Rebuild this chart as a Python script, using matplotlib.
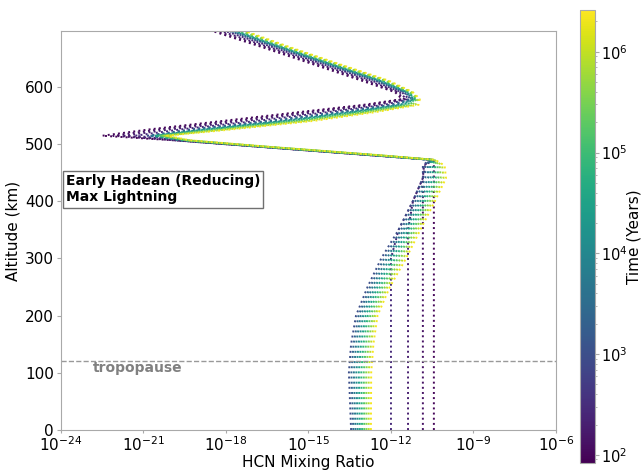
import numpy as np
import matplotlib
matplotlib.use("Agg")
import matplotlib.pyplot as plt
from matplotlib.colors import LogNorm
from matplotlib.cm import ScalarMappable

# altitude grid of the profiles (km)
altitude_km = [0, 100, 150, 200, 250, 300, 350, 400, 440, 462, 472, 480, 495,
               506, 514, 525, 540, 555, 568, 578, 590, 610, 640, 670, 697]

# snapshot times (years), one per profile
time_years = [1.0e2, 1.4e2, 2.0e2, 2.8e2,
              1.0e3, 2.4e3, 5.5e3, 1.3e4, 3.0e4, 7.0e4, 1.6e5, 3.8e5, 9.0e5, 2.2e6]

# log10 HCN mixing ratio for each snapshot, on the altitude grid
log_hcn = [
    [-10.44, -10.44, -10.44, -10.44, -10.44, -10.44, -10.44, -10.44, -10.44, -10.44, -10.45, -12.75, -16.85,
     -19.90, -22.50, -20.80, -18.10, -15.40, -13.00, -11.60, -11.85, -13.05, -14.90, -16.76, -18.50],
    [-10.84, -10.84, -10.84, -10.84, -10.84, -10.84, -10.84, -10.84, -10.84, -10.75, -10.50, -12.75, -16.85,
     -19.85, -22.10, -20.44, -17.70, -15.06, -12.76, -11.52, -11.77, -12.93, -14.78, -16.64, -18.36],
    [-11.38, -11.38, -11.38, -11.38, -11.38, -11.38, -11.38, -11.20, -10.84, -10.80, -10.55, -12.73, -16.83,
     -19.80, -21.70, -20.05, -17.28, -14.70, -12.50, -11.44, -11.69, -12.81, -14.66, -16.51, -18.20],
    [-12.00, -12.00, -12.00, -12.00, -12.00, -12.00, -11.72, -11.20, -10.84, -10.82, -10.55, -12.72, -16.82,
     -19.75, -21.30, -19.66, -16.85, -14.34, -12.24, -11.35, -11.60, -12.68, -14.53, -16.38, -18.04],
    [-13.45, -13.53, -13.45, -13.27, -12.85, -12.35, -11.72, -11.20, -10.84, -10.84, -10.60, -12.70, -16.80,
     -19.70, -20.85, -19.30, -16.45, -14.00, -12.00, -11.28, -11.53, -12.56, -14.42, -16.26, -17.90],
    [-13.37, -13.44, -13.36, -13.18, -12.76, -12.25, -11.63, -11.11, -10.75, -10.75, -10.58, -12.67, -16.77,
     -19.66, -20.77, -19.13, -16.27, -13.84, -11.89, -11.24, -11.49, -12.51, -14.36, -16.20, -17.83],
    [-13.29, -13.35, -13.27, -13.10, -12.67, -12.15, -11.54, -11.02, -10.65, -10.66, -10.56, -12.63, -16.73,
     -19.61, -20.69, -18.97, -16.08, -13.69, -11.78, -11.20, -11.45, -12.45, -14.31, -16.14, -17.77],
    [-13.21, -13.26, -13.18, -13.01, -12.58, -12.05, -11.46, -10.93, -10.56, -10.58, -10.53, -12.60, -16.70,
     -19.57, -20.62, -18.80, -15.90, -13.53, -11.67, -11.17, -11.42, -12.40, -14.25, -16.09, -17.70],
    [-13.13, -13.17, -13.09, -12.92, -12.49, -11.95, -11.37, -10.84, -10.47, -10.49, -10.51, -12.57, -16.67,
     -19.52, -20.54, -18.63, -15.72, -13.38, -11.56, -11.13, -11.38, -12.34, -14.20, -16.03, -17.63],
    [-13.05, -13.08, -13.00, -12.84, -12.40, -11.85, -11.28, -10.76, -10.37, -10.40, -10.49, -12.53, -16.63,
     -19.48, -20.46, -18.47, -15.53, -13.22, -11.44, -11.09, -11.34, -12.29, -14.15, -15.97, -17.57],
    [-12.97, -12.99, -12.91, -12.75, -12.31, -11.75, -11.19, -10.67, -10.28, -10.31, -10.47, -12.50, -16.60,
     -19.43, -20.38, -18.30, -15.35, -13.07, -11.33, -11.06, -11.31, -12.23, -14.09, -15.92, -17.50],
    [-12.89, -12.90, -12.82, -12.66, -12.22, -11.65, -11.11, -10.58, -10.19, -10.23, -10.44, -12.47, -16.57,
     -19.39, -20.31, -18.13, -15.17, -12.91, -11.22, -11.02, -11.27, -12.18, -14.04, -15.86, -17.43],
    [-12.81, -12.81, -12.73, -12.58, -12.13, -11.55, -11.02, -10.49, -10.09, -10.14, -10.42, -12.43, -16.53,
     -19.34, -20.23, -17.97, -14.98, -12.76, -11.11, -10.99, -11.24, -12.13, -13.98, -15.81, -17.37],
    [-12.73, -12.72, -12.64, -12.49, -12.04, -11.45, -10.93, -10.40, -10.00, -10.05, -10.40, -12.40, -16.50,
     -19.30, -20.15, -17.80, -14.80, -12.60, -11.00, -10.95, -11.20, -12.07, -13.93, -15.75, -17.30],
]

x_ticks = [1e-24, 1e-21, 1e-18, 1e-15, 1e-12, 1e-9, 1e-6]
y_ticks = [0, 100, 200, 300, 400, 500, 600]
tropopause_km = 121
label_text = "Early Hadean (Reducing)\nMax Lightning"

plt.rcParams['axes.edgecolor'] = '#a9a9a9'
plt.rcParams['xtick.color'] = '#a9a9a9'
plt.rcParams['ytick.color'] = '#a9a9a9'
plt.rcParams['xtick.labelcolor'] = 'black'
plt.rcParams['ytick.labelcolor'] = 'black'

fig = plt.figure(figsize=(6.44, 4.70), dpi=100)
ax = fig.add_axes([0.0947, 0.0851, 0.7686, 0.849])

cmap = plt.get_cmap('viridis')
norm = LogNorm(vmin=83, vmax=2.6e6)

alt = np.array(altitude_km)
for t, prof in zip(time_years, log_hcn):
    ax.plot(10 ** np.array(prof), alt, linestyle=':', lw=1.4, color=cmap(norm(t)))

ax.axhline(tropopause_km, color='#999999', linestyle='--', lw=1)
ax.text(1.5e-23, 108, 'tropopause', color='gray', fontweight='bold', fontsize=10, va='center')

ax.text(0.01, 0.603, label_text, transform=ax.transAxes, fontsize=10, fontweight='bold',
        va='center', ha='left',
        bbox=dict(boxstyle='square,pad=0.22', facecolor='white', edgecolor='#707070'))

ax.set_xscale('log')
ax.set_xlim(1e-24, 1e-6)
ax.set_ylim(0, 697)
ax.set_xticks(x_ticks)
ax.xaxis.set_minor_locator(matplotlib.ticker.NullLocator())
ax.set_yticks(y_ticks)
ax.tick_params(axis='x', labelsize=11, length=2, pad=1.5)
ax.tick_params(axis='y', labelsize=11, length=3, pad=2)
ax.set_xlabel('HCN Mixing Ratio', fontsize=11, labelpad=1)
ax.set_ylabel('Altitude (km)', fontsize=11, labelpad=3)

cax = fig.add_axes([0.901, 0.0149, 0.023, 0.964])
sm = ScalarMappable(norm=norm, cmap=cmap)
cb = fig.colorbar(sm, cax=cax)
cb.outline.set_edgecolor('#a9a9a9')
cb.ax.tick_params(which='major', labelsize=10.5, length=3, pad=1)
cb.ax.tick_params(which='minor', length=1.5)
cb.set_label('Time (Years)', fontsize=11)
cb.ax.yaxis.set_label_coords(3.12, 0.5)

fig.savefig('out.png', dpi=100)
